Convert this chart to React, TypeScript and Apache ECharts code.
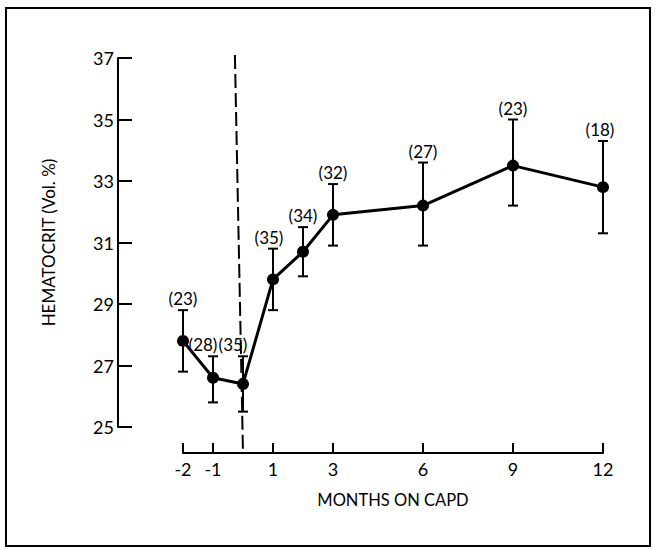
import React, { useEffect, useRef } from "react";
import * as echarts from "echarts";

// Months on CAPD (month 0 = start of CAPD)
const months = [-2, -1, 0, 1, 2, 3, 6, 9, 12];
// Mean hematocrit (Vol. %)
const hematocrit = [27.8, 26.6, 26.4, 29.8, 30.7, 31.9, 32.2, 33.5, 32.8];
// Error bar ends
const errLow = [26.8, 25.8, 25.5, 28.8, 29.9, 30.9, 30.9, 32.2, 31.3];
const errHigh = [28.8, 27.3, 27.3, 30.8, 31.5, 32.9, 33.6, 35.0, 34.3];
// Number of patients at each time point
const patients = [23, 28, 35, 35, 34, 32, 27, 23, 18];
// x-axis tick labels
const xTickValues = [-2, -1, 1, 3, 6, 9, 12];
// y-axis range
const yMin = 25;
const yMax = 37;
const yStep = 2;
// start of CAPD (dashed line)
const capdStart = 0;

const FONT = "Lato";
const labelShift = [0, -10, -10, -4, 0, 0, 0, 0, -3];

export default function App() {
  const ref = useRef<HTMLDivElement>(null);

  useEffect(() => {
    if (!ref.current) return;
    const chart = echarts.init(ref.current, undefined, { renderer: "svg" });

    const lineData = months.map((m, i) => [m, hematocrit[i]]);
    const errData = months.map((m, i) => [m, errLow[i], errHigh[i], patients[i], labelShift[i]]);

    chart.setOption({
      animation: false,
      backgroundColor: "#fff",
      textStyle: { fontFamily: FONT, color: "#000" },
      grid: { left: 183, right: 52, top: 58, bottom: 122 },
      xAxis: {
        type: "value",
        min: -2,
        max: 12,
        interval: 1,
        offset: 26,
        axisLine: { show: true, onZero: false, lineStyle: { color: "#000", width: 2 } },
        axisTick: {
          show: true,
          inside: true,
          length: 10,
          customValues: xTickValues,
          lineStyle: { color: "#000", width: 2 },
        },
        axisLabel: {
          customValues: xTickValues,
          color: "#000",
          fontSize: 18,
          fontFamily: FONT,
          margin: 7,
        },
        splitLine: { show: false },
        name: "MONTHS ON CAPD",
        nameLocation: "middle",
        nameGap: 38,
        nameTextStyle: { fontSize: 16.5, fontFamily: FONT, color: "#000" },
      },
      yAxis: {
        type: "value",
        min: yMin,
        max: yMax,
        interval: yStep,
        offset: 65,
        axisLine: { show: true, onZero: false, lineStyle: { color: "#000", width: 2 } },
        axisTick: {
          show: true,
          inside: true,
          length: 14,
          lineStyle: { color: "#000", width: 2 },
        },
        axisLabel: { color: "#000", fontSize: 18, fontFamily: FONT, margin: 4 },
        splitLine: { show: false },
        name: "HEMATOCRIT (Vol. %)",
        nameLocation: "middle",
        nameRotate: 90,
        nameGap: 61,
        nameTextStyle: { fontSize: 17, fontFamily: FONT, color: "#000" },
      },
      series: [
        {
          type: "line",
          data: [
            [capdStart - 0.27, 37.1],
            [capdStart, 24.15],
          ],
          symbol: "none",
          clip: false,
          lineStyle: { color: "#000", width: 2, type: [14, 5] },
          z: 1,
        },
        {
          type: "custom",
          data: errData,
          clip: false,
          z: 2,
          renderItem: (params: any, api: any) => {
            const x = api.value(0);
            const lo = api.value(1);
            const hi = api.value(2);
            const n = api.value(3);
            const dx = api.value(4);
            const pLo = api.coord([x, lo]);
            const pHi = api.coord([x, hi]);
            const w = 5;
            const st = { stroke: "#000", lineWidth: 2 };
            return {
              type: "group",
              children: [
                { type: "line", shape: { x1: pLo[0], y1: pLo[1], x2: pHi[0], y2: pHi[1] }, style: st },
                { type: "line", shape: { x1: pLo[0] - w, y1: pLo[1], x2: pLo[0] + w, y2: pLo[1] }, style: st },
                { type: "line", shape: { x1: pHi[0] - w, y1: pHi[1], x2: pHi[0] + w, y2: pHi[1] }, style: st },
                {
                  type: "text",
                  x: pHi[0] + dx,
                  y: pHi[1] - 3,
                  style: {
                    text: "(" + n + ")",
                    align: "center",
                    verticalAlign: "bottom",
                    fontSize: 17,
                    fontFamily: FONT,
                    fill: "#000",
                  },
                },
              ],
            };
          },
        },
        {
          type: "line",
          data: lineData,
          symbol: "circle",
          symbolSize: 12,
          itemStyle: { color: "#000" },
          lineStyle: { color: "#000", width: 3 },
          z: 3,
        },
      ],
      graphic: [
        {
          type: "rect",
          shape: { x: 6, y: 8, width: 644, height: 538 },
          style: { fill: "none", stroke: "#000", lineWidth: 2 },
          silent: true,
        },
      ],
    });

    return () => chart.dispose();
  }, []);

  return (
    <div
      ref={ref}
      style={{ position: "absolute", left: 0, top: 0, width: 655, height: 549 }}
    />
  );
}
